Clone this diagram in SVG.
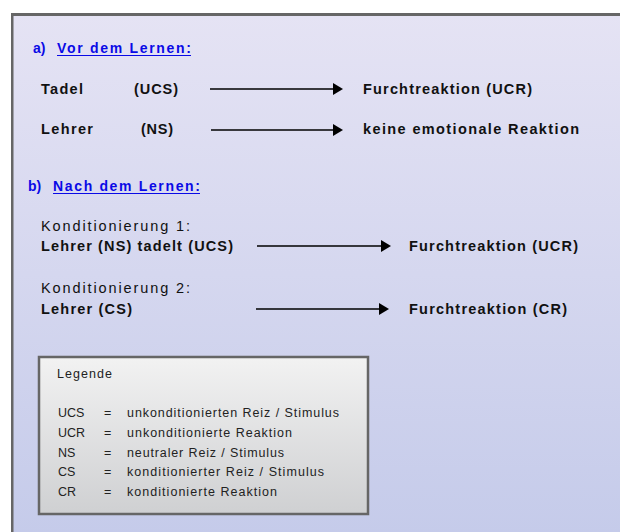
<svg xmlns="http://www.w3.org/2000/svg" width="620" height="532" viewBox="0 0 620 532">
  <defs>
    <linearGradient id="bg" x1="0" y1="0" x2="0" y2="1">
      <stop offset="0" stop-color="#e5e3f4"/>
      <stop offset="1" stop-color="#c5cbea"/>
    </linearGradient>
    <linearGradient id="leg" x1="0" y1="0" x2="0" y2="1">
      <stop offset="0" stop-color="#f2f2f2"/>
      <stop offset="1" stop-color="#cfd0d2"/>
    </linearGradient>
    <marker id="ah" viewBox="0 0 10 12" markerWidth="10" markerHeight="12" refX="8" refY="6" orient="auto" markerUnits="userSpaceOnUse">
      <path d="M0,0 L10,6 L0,12 z" fill="#000"/>
    </marker>
    <style>
      .t { font-family: "Liberation Sans", Arial, sans-serif; font-size: 14.5px; font-weight: bold; fill: #111; }
      .n { font-family: "Liberation Sans", Arial, sans-serif; font-size: 14.5px; font-weight: normal; fill: #111; }
      .h { font-family: "Liberation Sans", Arial, sans-serif; font-size: 14px; font-weight: bold; fill: #0a0ae6; }
      .l { font-family: "Liberation Sans", Arial, sans-serif; font-size: 12.5px; fill: #222; }
      .ul { stroke: #0a0ae6; stroke-width: 1; }
      .c { stroke: #000; stroke-width: 1.5; fill: none; marker-end: url(#ah); }
    </style>
  </defs>

  <rect x="0" y="0" width="620" height="532" fill="#ffffff"/>
  <g id="frame">
    <rect x="12" y="14" width="610" height="520" fill="url(#bg)"/>
    <rect x="11" y="13" width="609" height="3" fill="#666666"/>
    <rect x="11" y="13" width="2.5" height="519" fill="#666666"/>
  </g>

  <g id="heading-a">
    <text class="h" x="33" y="53">a)</text>
    <text class="h" x="57" y="53" textLength="134" lengthAdjust="spacing">Vor dem Lernen:</text>
    <line class="ul" x1="57" y1="55.5" x2="191" y2="55.5"/>
  </g>

  <g id="a-row1">
    <text class="t" x="41" y="94" textLength="42" lengthAdjust="spacing">Tadel</text>
    <text class="t" x="134" y="94" textLength="44" lengthAdjust="spacing">(UCS)</text>
  </g>
  <g id="a-row1-result">
    <text class="t" x="363" y="94" textLength="169" lengthAdjust="spacing">Furchtreaktion (UCR)</text>
  </g>
  <g id="a-row2">
    <text class="t" x="41" y="134" textLength="52" lengthAdjust="spacing">Lehrer</text>
    <text class="t" x="141" y="134" textLength="32" lengthAdjust="spacing">(NS)</text>
  </g>
  <g id="a-row2-result">
    <text class="t" x="363" y="134" textLength="216" lengthAdjust="spacing">keine emotionale Reaktion</text>
  </g>

  <g id="heading-b">
    <text class="h" x="28" y="191">b)</text>
    <text class="h" x="53" y="191" textLength="147" lengthAdjust="spacing">Nach dem Lernen:</text>
    <line class="ul" x1="53" y1="193.5" x2="200" y2="193.5"/>
  </g>

  <g id="b-row1">
    <text class="n" x="41" y="231" textLength="149" lengthAdjust="spacing">Konditionierung 1:</text>
    <text class="t" x="41" y="251" textLength="192" lengthAdjust="spacing">Lehrer (NS) tadelt (UCS)</text>
  </g>
  <g id="b-row1-result">
    <text class="t" x="409" y="251" textLength="169" lengthAdjust="spacing">Furchtreaktion (UCR)</text>
  </g>
  <g id="b-row2">
    <text class="n" x="41" y="293" textLength="149" lengthAdjust="spacing">Konditionierung 2:</text>
    <text class="t" x="41" y="314" textLength="91" lengthAdjust="spacing">Lehrer (CS)</text>
  </g>
  <g id="b-row2-result">
    <text class="t" x="409" y="314" textLength="158" lengthAdjust="spacing">Furchtreaktion (CR)</text>
  </g>

  <g id="connectors">
    <line class="c" x1="210" y1="89" x2="341" y2="89"/>
    <line class="c" x1="211" y1="130" x2="341" y2="130"/>
    <line class="c" x1="257" y1="246" x2="389" y2="246"/>
    <line class="c" x1="256" y1="309" x2="387" y2="309"/>
  </g>

  <g id="legend">
    <rect x="39" y="357" width="329" height="157" fill="url(#leg)" stroke="#666666" stroke-width="2.5"/>
    <text class="l" x="57" y="378" textLength="55" lengthAdjust="spacing">Legende</text>
    <text class="l" x="58" y="417">UCS</text>
    <text class="l" x="104" y="417">=</text>
    <text class="l" x="127" y="417" textLength="212" lengthAdjust="spacing">unkonditionierten Reiz / Stimulus</text>
    <text class="l" x="58" y="437">UCR</text>
    <text class="l" x="104" y="437">=</text>
    <text class="l" x="127" y="437" textLength="165" lengthAdjust="spacing">unkonditionierte Reaktion</text>
    <text class="l" x="58" y="457">NS</text>
    <text class="l" x="104" y="457">=</text>
    <text class="l" x="127" y="457" textLength="157" lengthAdjust="spacing">neutraler Reiz / Stimulus</text>
    <text class="l" x="58" y="476">CS</text>
    <text class="l" x="104" y="476">=</text>
    <text class="l" x="127" y="476" textLength="197" lengthAdjust="spacing">konditionierter Reiz / Stimulus</text>
    <text class="l" x="58" y="496">CR</text>
    <text class="l" x="104" y="496">=</text>
    <text class="l" x="127" y="496" textLength="150" lengthAdjust="spacing">konditionierte Reaktion</text>
  </g>
</svg>
